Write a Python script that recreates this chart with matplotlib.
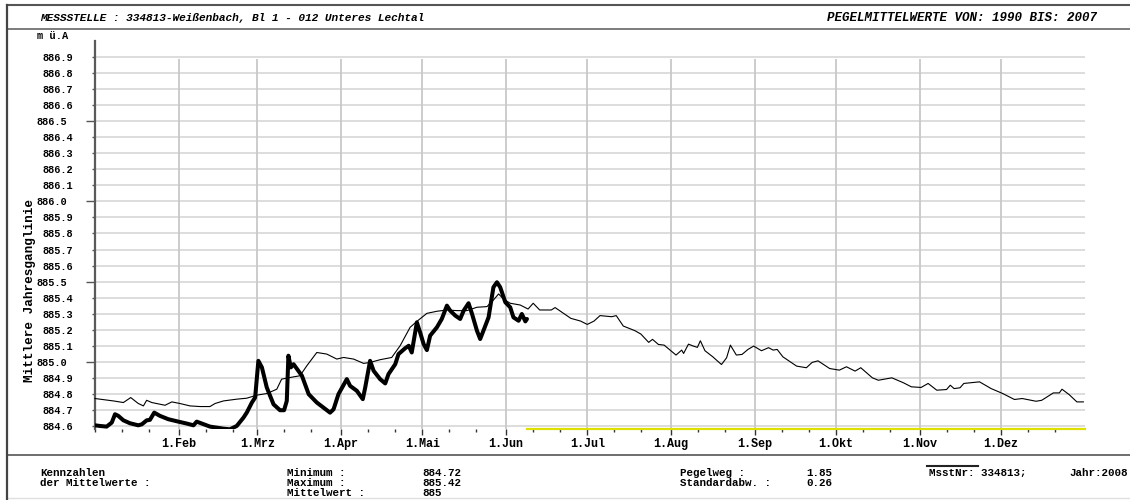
import matplotlib
matplotlib.use("Agg")
import matplotlib.pyplot as plt
from matplotlib.lines import Line2D
import numpy as np

# ---------------- data ----------------
mean_days = [0, 6.8, 10.5, 13.2, 16, 17.9, 19.1, 21, 25.9, 28.4,
             31.4, 35.1, 38.8, 42.5, 44.4, 47.5, 52.4, 56.1, 59.8, 63.5,
             67.2, 69, 73.4, 75.8, 78.3, 82, 85.7, 89.4, 91.9, 95.6,
             99.3, 101.7, 105.4, 109.7, 112.8, 116.5, 119, 122.7, 126.4, 130.1,
             133.8, 137.5, 141.2, 144.9, 147.3, 149.2, 151, 153.5,
             157.2, 160.1, 162, 164.4, 168.7, 170.1, 175.9, 179.5, 182, 184.5,
             186.7, 191, 192.7, 195.3, 199.6, 201.8, 204.7, 206.1, 208.3, 210.4,
             214.8, 216.9, 217.6, 219.4, 221.2, 222.7, 223.8, 225.5, 228.4, 231.6,
             233.5, 234.9, 237.1, 239.2, 241.4, 243.5, 246.4, 249, 250.7, 252.2,
             254.3, 259.4, 263, 265.1, 267.3, 271.6, 275.2, 277.8, 281, 283.1,
             287.4, 289.6, 294.6, 298.9, 301.8, 305.4, 308, 311.2, 314.8, 316.2,
             317.6, 319.8, 321.2, 327, 331.3, 335.6, 339.9, 342.8, 347.9, 350,
             354.3, 356.5, 357.5, 360.1, 363, 365.4]
mean_vals = [884.771, 884.756, 884.746, 884.777, 884.740, 884.725, 884.760, 884.746, 884.729, 884.750,
             884.740, 884.725, 884.721, 884.721, 884.740, 884.756, 884.767, 884.773, 884.792, 884.802,
             884.829, 884.892, 884.906, 884.913, 884.975, 885.058, 885.048, 885.017, 885.027, 885.017,
             884.990, 884.996, 885.013, 885.027, 885.100, 885.215, 885.252, 885.302, 885.315, 885.323,
             885.319, 885.319, 885.340, 885.344, 885.385, 885.423, 885.392, 885.365,
             885.354, 885.329, 885.365, 885.323, 885.323, 885.338, 885.271, 885.254, 885.233, 885.254,
             885.288, 885.281, 885.288, 885.223, 885.194, 885.173, 885.121, 885.140, 885.108, 885.104,
             885.042, 885.073, 885.052, 885.110, 885.098, 885.090, 885.131, 885.069, 885.031, 884.983,
             885.025, 885.104, 885.042, 885.046, 885.077, 885.098, 885.069, 885.088, 885.073, 885.077,
             885.031, 884.973, 884.963, 884.996, 885.006, 884.958, 884.948, 884.969, 884.942, 884.963,
             884.900, 884.885, 884.900, 884.869, 884.844, 884.840, 884.865, 884.823, 884.827, 884.854,
             884.833, 884.838, 884.865, 884.875, 884.833, 884.802, 884.765, 884.771, 884.754, 884.760,
             884.806, 884.806, 884.829, 884.796, 884.750, 884.750]

y2008_days = [0, 1.8, 4.3, 6.2, 7.4, 8.6, 10.5, 12.9, 16, 17.3,
              19.1, 20.3, 21.9, 24, 27.1, 30.8, 33.9, 36.4, 37.6, 39.5,
              42.5, 47.5, 49.9, 52.4, 54.9, 56.1, 58, 59.2, 60.4, 61.7,
              63.5, 66, 68.4, 69.9, 70.9, 71.5, 72.4, 73.4, 76.5, 79,
              82, 86.9, 88.2, 90, 93.1, 94.3, 96.8, 99, 99.9, 101.7,
              103, 105.4, 107.3, 108.5, 111, 112.2, 114.7, 116, 117.1, 119,
              120.2, 121.5, 122.7, 123.9, 126.4, 128.2, 130.1, 131.3, 133.2, 135,
              136.3, 138.1, 139.4, 141.2, 142.4, 143.6, 145.5, 147.3, 148.6, 149.8,
              151.7, 153.5, 154.7, 156.6, 157.8, 159.1, 159.7]
y2008_vals = [884.604, 884.600, 884.596, 884.621, 884.673, 884.663, 884.635, 884.617, 884.604, 884.610,
              884.635, 884.638, 884.683, 884.663, 884.642, 884.627, 884.615, 884.604, 884.627, 884.615,
              884.596, 884.583, 884.579, 884.600, 884.652, 884.683, 884.746, 884.777, 885.006, 884.965,
              884.840, 884.735, 884.698, 884.698, 884.756, 885.038, 884.965, 884.985, 884.913, 884.798,
              884.746, 884.683, 884.704, 884.798, 884.892, 884.850, 884.819, 884.767, 884.840, 885.006,
              884.944, 884.892, 884.865, 884.923, 884.985, 885.048, 885.085, 885.100, 885.058, 885.246,
              885.183, 885.110, 885.073, 885.163, 885.215, 885.267, 885.350, 885.319, 885.288, 885.267,
              885.319, 885.365, 885.298, 885.194, 885.142, 885.194, 885.277, 885.465, 885.496, 885.465,
              885.371, 885.340, 885.277, 885.256, 885.298, 885.252, 885.267]

month_starts = [31, 60, 91, 121, 152, 182, 213, 244, 274, 305, 335]
month_labels = ["1.Feb", "1.Mrz", "1.Apr", "1.Mai", "1.Jun", "1.Jul",
                "1.Aug", "1.Sep", "1.Okt", "1.Nov", "1.Dez"]
y_levels = [round(884.6 + 0.1 * i, 1) for i in range(24)]
y_major_levels = [885.0, 885.5, 886.0, 886.5]

title_left = "MESSSTELLE : 334813-Weißenbach, Bl 1 - 012 Unteres Lechtal"
title_right = "PEGELMITTELWERTE VON: 1990 BIS: 2007"
y_label = "Mittlere Jahresganglinie"
unit_label = "m ü.A"
stats_min, stats_max, stats_mean = "884.72", "885.42", "885"
stats_range, stats_std = "1.85", "0.26"
station_no, year = "334813", "2008"

# ---------------- figure ----------------
W, H = 1130, 500
fig = plt.figure(figsize=(W / 100, H / 100), dpi=100)
fig.patch.set_facecolor("white")

def fx(px):
    return px / W

def fy(py):
    return 1 - py / H

FONT = "Liberation Mono"

ax_left, ax_right, ax_top, ax_bot = 95, 1085, 41, 429
ax = fig.add_axes([fx(ax_left), fy(ax_bot), fx(ax_right - ax_left), (ax_bot - ax_top) / H])
ax.set_facecolor("white")
ymin, ymax = 884.581, 887.0
ax.set_xlim(0, 366)
ax.set_ylim(ymin, ymax)

for s in ["top", "right", "bottom"]:
    ax.spines[s].set_visible(False)
ax.spines["left"].set_color("#5a5a5a")
ax.spines["left"].set_linewidth(1.6)

# horizontal gridlines
for v in y_levels:
    ax.axhline(v, color="#dadada", lw=1.3, zorder=1)
# vertical gridlines
ax.vlines(month_starts, ymin, y_levels[-1] - 0.01, color="#c8c8c8", lw=1.3, zorder=1)

# y ticks
minor_levels = [v for v in y_levels if v not in y_major_levels]
ax.set_yticks(y_major_levels)
ax.set_yticklabels([f"{v:.1f}" for v in y_major_levels])
ax.set_yticks(minor_levels, minor=True)
ax.set_yticklabels([f"{v:.1f}" for v in minor_levels], minor=True)
ax.tick_params(axis="y", which="major", length=6.5, width=1, color="#555555", pad=13.5,
               labelsize=7.4, labelcolor="black")
ax.tick_params(axis="y", which="minor", length=2.2, width=1, color="#555555", pad=13.5,
               labelsize=7.4, labelcolor="black")
for lab in ax.get_yticklabels(which="both"):
    lab.set_fontfamily(FONT)
    lab.set_fontweight("bold")

# x ticks
minor_x = [0, 10, 20] + [m + k for m in month_starts for k in (10, 20)]
ax.set_xticks(month_starts)
ax.set_xticklabels(month_labels)
ax.set_xticks(minor_x, minor=True)
ax.tick_params(axis="x", which="major", length=4.5, width=1, color="#333333", pad=2,
               labelsize=8.5, labelcolor="black")
ax.tick_params(axis="x", which="minor", length=2.5, width=1, color="#333333")
for lab in ax.get_xticklabels():
    lab.set_fontfamily(FONT)
    lab.set_fontweight("bold")

# data lines
ax.plot(mean_days, mean_vals, color="black", lw=0.8, zorder=3, clip_on=False)
ax.plot(y2008_days, y2008_vals, color="black", lw=2.9, zorder=4,
        solid_joinstyle="round", solid_capstyle="round")
# yellow line where no current-year data
ax.plot([y2008_days[-1], 366], [ymin, ymin], color="#e0e000", lw=1.6, zorder=5, clip_on=False)

# ---------------- frame / texts ----------------
def hline(py, x0, x1, color="#444444", lw=1.2):
    fig.add_artist(Line2D([fx(x0), fx(x1)], [fy(py), fy(py)], color=color, lw=lw))

def vline(px, y0, y1, color="#444444", lw=1.5):
    fig.add_artist(Line2D([fx(px), fx(px)], [fy(y0), fy(y1)], color=color, lw=lw))

hline(5, 7, W, "#555555", 1.5)
hline(29, 7, W, "#666666", 1.2)
hline(455, 7, W, "#555555", 1.2)
hline(498, 7, W, "#e0e0e0", 1.0)
vline(7, 5, 500, "#444444", 1.6)

hdr = dict(fontfamily=FONT, fontweight="bold", fontstyle="italic", va="center")
fig.text(fx(40), fy(18), title_left, ha="left", fontsize=8.0, **hdr)
fig.text(fx(1097), fy(18), title_right, ha="right", fontsize=9.0, **hdr)

fig.text(fx(37), fy(36), unit_label, ha="left", va="center",
         fontfamily=FONT, fontweight="bold", fontsize=7.5)
fig.text(fx(30), fy(290), y_label, ha="center", va="center", rotation=90,
         fontfamily=FONT, fontweight="bold", fontsize=9.2)

ft = dict(fontfamily=FONT, fontweight="bold", fontsize=7.8, va="center", ha="left")
r1, r2, r3 = 473, 483, 493
fig.text(fx(40), fy(r1), "Kennzahlen", **ft)
fig.text(fx(40), fy(r2), "der Mittelwerte :", **ft)
fig.text(fx(287), fy(r1), "Minimum :", **ft)
fig.text(fx(287), fy(r2), "Maximum :", **ft)
fig.text(fx(287), fy(r3), "Mittelwert :", **ft)
fig.text(fx(422), fy(r1), stats_min, **ft)
fig.text(fx(422), fy(r2), stats_max, **ft)
fig.text(fx(422), fy(r3), stats_mean, **ft)
fig.text(fx(680), fy(r1), "Pegelweg :", **ft)
fig.text(fx(680), fy(r2), "Standardabw. :", **ft)
fig.text(fx(806), fy(r1), stats_range, **ft)
fig.text(fx(806), fy(r2), stats_std, **ft)
fig.text(fx(929), fy(r1), f"MsstNr: {station_no};", **ft)
fig.text(fx(1128), fy(r1), f"Jahr:{year}", **{**ft, "ha": "right"})
hline(466, 927, 978, "#222222", 1.5)

fig.savefig("out.png", dpi=100, facecolor="white")
